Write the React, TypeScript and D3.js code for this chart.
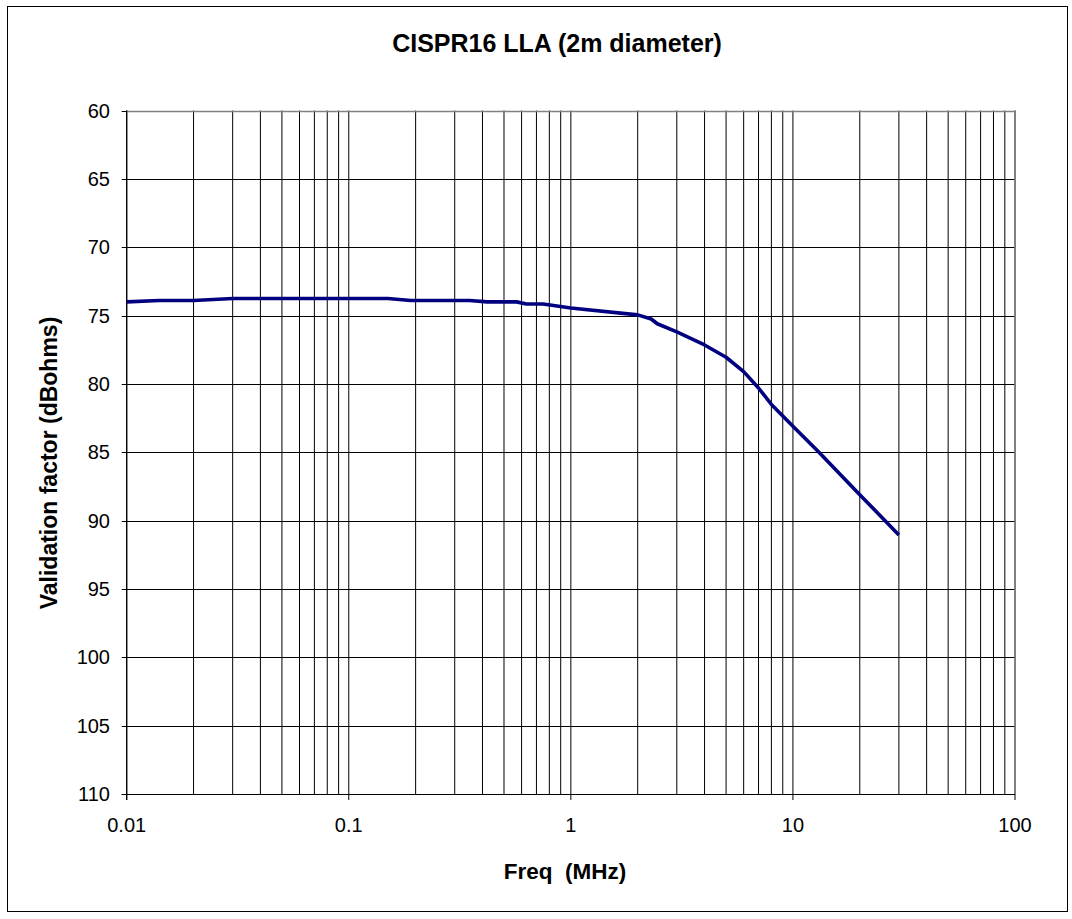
import React from "react";
import * as d3 from "d3";

const freqMHz = [0.01, 0.014, 0.02, 0.03, 0.05, 0.1, 0.15, 0.19, 0.35, 0.42, 0.57, 0.63, 0.75, 1, 2, 2.3, 2.45, 3, 4, 5, 6, 7, 8, 10, 13, 20, 30];
const validationFactor = [74.0, 73.9, 73.9, 73.75, 73.75, 73.75, 73.75, 73.9, 73.9, 74.0, 74.0, 74.15, 74.15, 74.45, 74.95, 75.25, 75.6, 76.2, 77.15, 78.05, 79.1, 80.3, 81.5, 83.1, 84.95, 88.1, 91.05];
const yTicks = [60, 65, 70, 75, 80, 85, 90, 95, 100, 105, 110];
const xTicks = [0.01, 0.1, 1, 10, 100];
const xTickLabels = ["0.01", "0.1", "1", "10", "100"];

const W = 1072;
const H = 919;
const L = 126.7, R = 1015, T = 110.5, B = 794;

export default function App() {
  const x = d3.scaleLog().domain([0.01, 100]).range([L, R]);
  const y = d3.scaleLinear().domain([60, 110]).range([T, B]);
  const minor: number[] = [];
  for (let e = -2; e < 2; e++) {
    for (let m = 2; m <= 9; m++) minor.push(m * Math.pow(10, e));
  }
  const pts: [number, number][] = freqMHz.map((f, i) => [f, validationFactor[i]]);
  const line = d3.line<[number, number]>().x((d) => x(d[0])).y((d) => y(d[1]));
  const font = "'Liberation Sans', Arial, sans-serif";
  return (
    <svg width={W} height={H} style={{ position: "absolute", left: 0, top: 0, background: "#fff" }} fontFamily={font}>
      <rect x={7.5} y={6.5} width={1060} height={905} fill="#fff" stroke="#000" strokeWidth={1} />
      {yTicks.map((t) => (
        <line key={"h" + t} x1={L} x2={R} y1={Math.round(y(t)) + 0.5} y2={Math.round(y(t)) + 0.5} stroke="#000" strokeWidth={1} />
      ))}
      {[...xTicks, ...minor].map((t) => (
        <line key={"v" + t} x1={x(t)} x2={x(t)} y1={T} y2={B} stroke="#000" strokeWidth={1} />
      ))}
      <line x1={L} x2={R} y1={Math.round(T) + 0.5} y2={Math.round(T) + 0.5} stroke="#808080" strokeWidth={1.5} />
      <line x1={R} x2={R} y1={T} y2={B} stroke="#808080" strokeWidth={1.5} />
      <line x1={L} x2={L} y1={T} y2={B + 6} stroke="#000" strokeWidth={1.2} />
      <line x1={L - 5} x2={R} y1={Math.round(B) + 0.5} y2={Math.round(B) + 0.5} stroke="#000" strokeWidth={1.2} />
      {yTicks.map((t) => (
        <g key={"yt" + t}>
          <line x1={L - 5} x2={L} y1={Math.round(y(t)) + 0.5} y2={Math.round(y(t)) + 0.5} stroke="#000" />
          <text x={110} y={y(t)} dy="0.35em" textAnchor="end" fontSize={20}>{t}</text>
        </g>
      ))}
      {xTicks.map((t, i) => (
        <g key={"xt" + t}>
          <line x1={x(t)} x2={x(t)} y1={B} y2={B + 6} stroke="#000" />
          <text x={x(t)} y={832} textAnchor="middle" fontSize={20}>{xTickLabels[i]}</text>
        </g>
      ))}
      <path d={line(pts) || ""} fill="none" stroke="#000080" strokeWidth={3.6} strokeLinejoin="round" />
      <text x={557} y={52} textAnchor="middle" fontSize={25} fontWeight="bold">CISPR16 LLA (2m diameter)</text>
      <text x={565} y={879} textAnchor="middle" fontSize={22.5} fontWeight="bold" style={{ whiteSpace: "pre" }}>Freq  (MHz)</text>
      <text transform={`translate(57,463) rotate(-90)`} textAnchor="middle" fontSize={23} fontWeight="bold">Validation factor (dBohms)</text>
    </svg>
  );
}
